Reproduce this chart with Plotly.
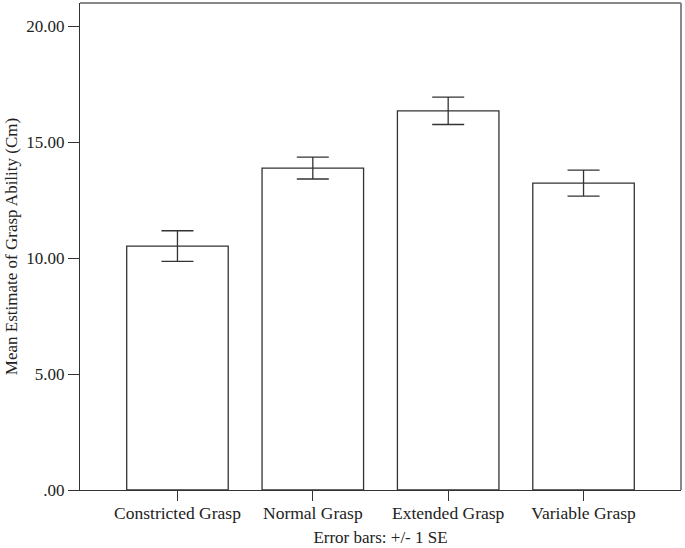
import plotly.graph_objects as go

categories = ["Constricted Grasp", "Normal Grasp", "Extended Grasp", "Variable Grasp"]
means = [10.52, 13.88, 16.35, 13.23]
se = [0.66, 0.47, 0.59, 0.56]
y_ticks = [0, 5, 10, 15, 20]
y_tick_labels = [".00", "5.00", "10.00", "15.00", "20.00"]

font = dict(family="Liberation Serif, Times New Roman, serif", size=17, color="#222")

fig = go.Figure(go.Bar(
    x=list(range(len(categories))),
    y=means,
    width=0.75,
    marker=dict(color="white", line=dict(color="#333", width=1.3)),
    error_y=dict(type="data", array=se, visible=True, color="#333", thickness=1.3, width=16),
))

fig.update_layout(
    width=685, height=548,
    margin=dict(l=80, r=4, t=3, b=58, autoexpand=False),
    plot_bgcolor="white", paper_bgcolor="white",
    font=font,
    showlegend=False,
    xaxis=dict(
        range=[-0.72, 3.72], automargin=False,
        tickmode="array", tickvals=list(range(len(categories))), ticktext=categories,
        tickfont=dict(size=17.5),
        ticks="outside", ticklen=10, tickwidth=1.3, tickcolor="#333",
        ticklabelstandoff=-3,
        showline=True, linecolor="#333", linewidth=1.3, mirror=False,
        showgrid=False, zeroline=False,
        title=dict(text="Error bars: +/- 1 SE", font=dict(size=17), standoff=8),
    ),
    yaxis=dict(
        range=[0, 21.0], automargin=False,
        tickmode="array", tickvals=y_ticks, ticktext=y_tick_labels,
        ticks="outside", ticklen=11, tickwidth=1.3, tickcolor="#333",
        showline=True, linecolor="#333", linewidth=1.3,
        showgrid=False, zeroline=False,
        title=dict(text="Mean Estimate of Grasp Ability (Cm)", font=dict(size=17), standoff=4),
    ),
    shapes=[
        dict(type="line", xref="paper", yref="paper", x0=0, x1=1, y0=1, y1=1,
             line=dict(color="#888", width=2)),
        dict(type="line", xref="paper", yref="paper", x0=1, x1=1, y0=0, y1=1,
             line=dict(color="#888", width=2)),
    ],
)

fig.write_html("out.html", config={"displayModeBar": False},
               post_script="document.body.style.margin='0px';")
